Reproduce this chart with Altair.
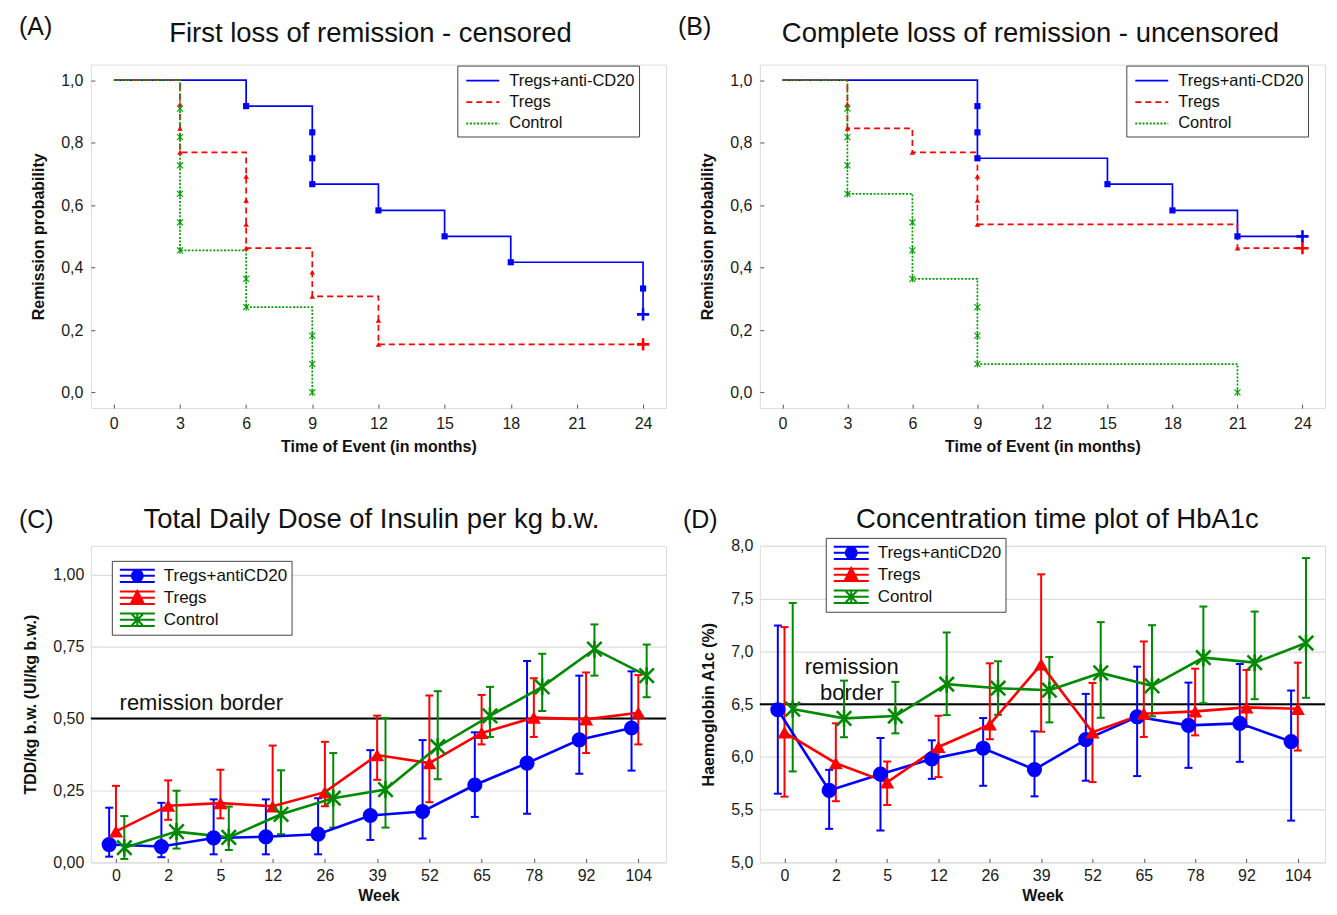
import json
import altair as alt
import pandas as pd

FONT = "Liberation Sans"

# ---------------- Panels A / B : Kaplan-Meier ----------------
km_groups = ["Tregs+anti-CD20", "Tregs", "Control"]
month_ticks = [0, 3, 6, 9, 12, 15, 18, 21, 24]
prob_ticks = [0.0, 0.2, 0.4, 0.6, 0.8, 1.0]

# A: step curves
a_blue_t = [0, 6, 9, 12, 15, 18, 24]
a_blue_s = [1.0, 0.917, 0.667, 0.583, 0.5, 0.417, 0.25]
a_red_t = [0, 3, 6, 9, 12, 24]
a_red_s = [1.0, 0.769, 0.462, 0.308, 0.154, 0.154]
a_green_t = [0, 3, 6, 9]
a_green_s = [1.0, 0.455, 0.273, 0.0]
# A: event markers
a_blue_ev_t = [6, 9, 9, 9, 12, 15, 18, 24]
a_blue_ev_s = [0.917, 0.833, 0.75, 0.667, 0.583, 0.5, 0.417, 0.333]
a_red_ev_t = [3, 3, 3, 6, 6, 6, 6, 9, 9, 12, 12]
a_red_ev_s = [0.923, 0.846, 0.769, 0.692, 0.615, 0.538, 0.462, 0.385, 0.308, 0.231, 0.154]
a_green_ev_t = [3, 3, 3, 3, 3, 3, 6, 6, 9, 9, 9]
a_green_ev_s = [0.909, 0.818, 0.727, 0.636, 0.545, 0.455, 0.364, 0.273, 0.182, 0.091, 0.0]
# A: censored
a_cens_g = ["Tregs+anti-CD20", "Tregs"]
a_cens_t = [24, 24]
a_cens_s = [0.25, 0.154]

# B: step curves
b_blue_t = [0, 9, 15, 18, 21, 24]
b_blue_s = [1.0, 0.75, 0.667, 0.583, 0.5, 0.5]
b_red_t = [0, 3, 6, 9, 21, 24]
b_red_s = [1.0, 0.846, 0.769, 0.538, 0.462, 0.462]
b_green_t = [0, 3, 6, 9, 21]
b_green_s = [1.0, 0.636, 0.364, 0.091, 0.0]
# B: event markers
b_blue_ev_t = [9, 9, 9, 15, 18, 21]
b_blue_ev_s = [0.917, 0.833, 0.75, 0.667, 0.583, 0.5]
b_red_ev_t = [3, 3, 6, 9, 9, 9, 21]
b_red_ev_s = [0.923, 0.846, 0.769, 0.692, 0.615, 0.538, 0.462]
b_green_ev_t = [3, 3, 3, 3, 6, 6, 6, 9, 9, 9, 21]
b_green_ev_s = [0.909, 0.818, 0.727, 0.636, 0.545, 0.455, 0.364, 0.273, 0.182, 0.091, 0.0]
# B: censored
b_cens_g = ["Tregs+anti-CD20", "Tregs"]
b_cens_t = [24, 24]
b_cens_s = [0.5, 0.462]

# ---------------- Panels C / D : weekly means with error bars ----------------
cd_groups = ["Tregs+antiCD20", "Tregs", "Control"]
weeks = ["0", "2", "5", "12", "26", "39", "52", "65", "78", "92", "104"]

c_blue_mean = [0.062, 0.055, 0.085, 0.089, 0.098, 0.163, 0.177, 0.269, 0.345, 0.426, 0.467]
c_blue_lo = [0.020, 0.018, 0.028, 0.028, 0.028, 0.078, 0.083, 0.158, 0.169, 0.308, 0.319]
c_blue_hi = [0.190, 0.207, 0.219, 0.219, 0.223, 0.390, 0.425, 0.452, 0.700, 0.649, 0.664]
c_red_mean = [0.108, 0.197, 0.206, 0.195, 0.244, 0.373, 0.345, 0.450, 0.503, 0.497, 0.520]
c_red_lo = [0.095, 0.148, 0.153, 0.180, 0.195, 0.287, 0.209, 0.410, 0.436, 0.380, 0.410]
c_red_hi = [0.266, 0.285, 0.322, 0.406, 0.419, 0.510, 0.580, 0.582, 0.640, 0.660, 0.651]
c_green_mean = [0.051, 0.107, 0.087, 0.167, 0.223, 0.253, 0.402, 0.509, 0.610, 0.741, 0.649]
c_green_lo = [0.012, 0.048, 0.043, 0.098, 0.121, 0.121, 0.289, 0.436, 0.526, 0.649, 0.574]
c_green_hi = [0.161, 0.249, 0.194, 0.320, 0.380, 0.502, 0.595, 0.610, 0.725, 0.827, 0.757]
c_border = 0.5
c_ticks = [0.0, 0.25, 0.5, 0.75, 1.0]

d_blue_mean = [6.447, 5.682, 5.836, 5.981, 6.082, 5.880, 6.163, 6.380, 6.299, 6.318, 6.145]
d_blue_lo = [5.651, 5.318, 5.302, 5.792, 5.726, 5.626, 5.774, 5.818, 5.896, 5.953, 5.396]
d_blue_hi = [7.245, 5.877, 6.179, 6.157, 6.368, 6.242, 6.597, 6.855, 6.704, 6.880, 6.629]
d_red_mean = [6.233, 5.940, 5.758, 6.094, 6.308, 6.877, 6.233, 6.409, 6.431, 6.469, 6.456]
d_red_lo = [5.623, 5.580, 5.544, 5.808, 6.167, 6.239, 5.761, 6.189, 6.204, 6.283, 6.060]
d_red_hi = [7.230, 6.318, 5.956, 6.390, 6.887, 7.730, 6.701, 7.094, 6.836, 6.824, 6.893]
d_green_mean = [6.453, 6.365, 6.387, 6.689, 6.651, 6.632, 6.796, 6.673, 6.940, 6.893, 7.079]
d_green_lo = [5.862, 6.186, 6.223, 6.396, 6.399, 6.327, 6.371, 6.384, 6.509, 6.547, 6.560]
d_green_hi = [7.459, 6.723, 6.711, 7.179, 6.906, 6.947, 7.277, 7.248, 7.425, 7.377, 7.884]
d_border = 6.5
d_ticks = [5.0, 5.5, 6.0, 6.5, 7.0, 7.5, 8.0]

# ---------------- style ----------------
COLORS = ["#0000FF", "#FF0000", "#008A00"]
KM_GREEN = "#00A000"
KM_COLORS = [COLORS[0], COLORS[1], KM_GREEN]
DASHES = [[1, 0], [6, 4], [2, 1.6]]
OFFSETS = {"Tregs+antiCD20": -0.13, "Tregs": 0.0, "Control": 0.16}
ASTER = "M0,-1L0,1M-0.85,-0.85L0.85,0.85M-0.85,0.85L0.85,-0.85"
PLUS = "M-1,0L1,0M0,-1L0,1"
KM_LEG_PATH = "M-1.65,0L1.65,0"
_BARS = "M-1.75,-0.62L1.75,-0.62M-1.75,0L1.75,0M-1.75,0.62L1.75,0.62"
LEG_PATHS = [
    _BARS + "M0,-0.62L0,0.62M0.55,0A0.55,0.55,0,1,1,-0.55,0A0.55,0.55,0,1,1,0.55,0Z",
    _BARS + "M0,-0.62L0,0.62M0,-0.68L0.58,0.45L-0.58,0.45Z",
    _BARS + "M0,-0.68L0,0.68M-0.55,-0.55L0.55,0.55M-0.55,0.55L0.55,-0.55",
]

AX_COMMON = dict(
    domain=False, labelFont=FONT, titleFont=FONT,
    labelFontSize=16, titleFontSize=16, titleFontWeight="bold",
    labelColor="#1a1a1a", titleColor="#111111", labelFlush=False,
)
# small inward ticks (axis shifted inside by the tick length)
INWARD = dict(ticks=True, tickSize=4, offset=-4, tickColor="#555555", tickWidth=1)


def text_layer(txt, x, y, size, align):
    return alt.Chart(pd.DataFrame({"t": [txt]})).mark_text(
        align=align, baseline="alphabetic", fontSize=size, font=FONT, color="#111111"
    ).encode(x=alt.value(x), y=alt.value(y), text="t:N")


def km_frames(steps, events, cens):
    st = pd.DataFrame([
        {"g": g, "t": t, "s": s}
        for g, (ts, ss) in zip(km_groups, steps) for t, s in zip(ts, ss)
    ])
    ev = pd.DataFrame([
        {"g": g, "t": t, "s": s}
        for g, (ts, ss) in zip(km_groups, events) for t, s in zip(ts, ss)
    ])
    ce = pd.DataFrame({"g": cens[0], "t": cens[1], "s": cens[2]})
    return st, ev, ce


def km_panel(st, ev, ce, title, letter, width, height, title_x, letter_x, legend_x):
    xsc = alt.Scale(domain=[-1.04, 25.04], nice=False, zero=False)
    ysc = alt.Scale(domain=[-0.05, 1.05], nice=False, zero=False)
    xax = alt.Axis(values=month_ticks, title="Time of Event (in months)", grid=False,
                   labelPadding=7, titlePadding=7, **INWARD, **AX_COMMON)
    yax = alt.Axis(values=prob_ticks, title="Remission probability", grid=False,
                   labelExpr="replace(format(datum.value, '.1f'), '.', ',')",
                   labelPadding=8, titlePadding=14, **INWARD, **AX_COMMON)
    X = alt.X("t:Q", scale=xsc, axis=xax)
    Y = alt.Y("s:Q", scale=ysc, axis=yax)
    leg = alt.Legend(orient="none", legendX=legend_x, legendY=1, title=None,
                     fillColor="white", strokeColor="#444444", padding=4,
                     labelFont=FONT, labelFontSize=16.5, labelColor="#111111",
                     symbolType=KM_LEG_PATH, symbolSize=400, symbolStrokeWidth=1.8,
                     symbolOffset=10.5, labelOffset=15.5, rowPadding=1.5)
    cscale = alt.Scale(domain=km_groups, range=KM_COLORS)
    lines = alt.Chart(st).mark_line(interpolate="step-after", strokeWidth=1.7).encode(
        x=X, y=Y,
        color=alt.Color("g:N", scale=cscale, legend=leg),
        strokeDash=alt.StrokeDash("g:N", scale=alt.Scale(domain=km_groups, range=DASHES), legend=leg),
    )
    sq = alt.Chart(ev).transform_filter(alt.datum.g == km_groups[0]).mark_point(
        shape="square", filled=True, size=38, color=KM_COLORS[0], opacity=1).encode(x=X, y=Y)
    tri = alt.Chart(ev).transform_filter(alt.datum.g == km_groups[1]).mark_point(
        shape="triangle-up", filled=True, size=30, color=KM_COLORS[1], opacity=1).encode(x=X, y=Y)
    ast = alt.Chart(ev).transform_filter(alt.datum.g == km_groups[2]).mark_point(
        shape=ASTER, filled=False, size=50, strokeWidth=1.1, color=KM_COLORS[2], opacity=1).encode(x=X, y=Y)
    cen = alt.Chart(ce).mark_point(shape=PLUS, filled=False, size=150, strokeWidth=2.6, opacity=1).encode(
        x=X, y=Y, color=alt.Color("g:N", scale=cscale, legend=None))
    lab = text_layer(letter, letter_x, -30, 25, "left")
    ttl = text_layer(title, title_x, -23, 27.5, "center")
    return alt.layer(lines, sq, tri, ast, cen, lab, ttl).properties(width=width, height=height)


def cd_frame(series):
    rows = []
    for g, (m, lo, hi) in zip(cd_groups, series):
        for i, w in enumerate(weeks):
            rows.append({"g": g, "i": i, "mean": m[i], "lo": lo[i], "hi": hi[i]})
    df = pd.DataFrame(rows)
    df["xp"] = df["i"] + df["g"].map(OFFSETS)
    return df


def cd_panel(df, title, letter, ytitle, ydom, yticks, yfmt, border, note, note_pos,
             note_align, width, height, title_x, letter_x, legend_x, legend_y):
    xsc = alt.Scale(domain=[-0.48, 10.53], nice=False, zero=False)
    ysc = alt.Scale(domain=ydom, nice=False, zero=False)
    xax = alt.Axis(values=list(range(len(weeks))), title="Week", grid=False,
                   labelExpr=json.dumps(weeks) + "[datum.value]",
                   labelPadding=5, titlePadding=4, **INWARD, **AX_COMMON)
    yax = alt.Axis(values=yticks, title=ytitle, grid=True, gridColor="#dddddd", gridWidth=1.2,
                   ticks=False,
                   labelExpr="replace(format(datum.value, '" + yfmt + "'), '.', ',')",
                   labelPadding=7, titlePadding=14, **AX_COMMON)
    X = alt.X("xp:Q", scale=xsc, axis=xax)

    def Y(f):
        return alt.Y(f, scale=ysc, axis=yax)

    cscale = alt.Scale(domain=cd_groups, range=COLORS)
    col = alt.Color("g:N", scale=cscale, legend=None)

    bline = alt.Chart(pd.DataFrame({"v": [border]})).mark_rule(
        color="black", strokeWidth=2).encode(y=Y("v:Q"))
    ntext = alt.Chart(pd.DataFrame({"x": [note_pos[0]], "y": [note_pos[1]], "t": [note]})).mark_text(
        align=note_align, baseline="middle", fontSize=22, font=FONT, color="#111111",
        lineBreak="\n", lineHeight=26).encode(
        x=alt.X("x:Q", scale=xsc, axis=xax), y=Y("y:Q"), text="t:N")
    err = alt.Chart(df).mark_rule(strokeWidth=2).encode(
        x=X, y=Y("lo:Q"), y2="hi:Q", color=col)
    caps = alt.Chart(df).transform_fold(["lo", "hi"], as_=["k", "v"]).mark_point(
        shape="stroke", filled=False, size=64, strokeWidth=2, opacity=1).encode(
        x=X, y=Y("v:Q"), color=col)
    line = alt.Chart(df).mark_line(strokeWidth=2.6).encode(
        x=X, y=Y("mean:Q"), color=col, detail="g:N")
    p1 = alt.Chart(df).transform_filter(alt.datum.g == cd_groups[0]).mark_point(
        shape="circle", filled=True, size=230, color=COLORS[0], opacity=1).encode(x=X, y=Y("mean:Q"))
    p2 = alt.Chart(df).transform_filter(alt.datum.g == cd_groups[1]).mark_point(
        shape="triangle-up", filled=True, size=200, color=COLORS[1], opacity=1).encode(x=X, y=Y("mean:Q"))
    p3 = alt.Chart(df).transform_filter(alt.datum.g == cd_groups[2]).mark_point(
        shape=ASTER, filled=False, size=290, strokeWidth=2.6, color=COLORS[2], opacity=1).encode(x=X, y=Y("mean:Q"))

    leg = alt.Legend(orient="none", legendX=legend_x, legendY=legend_y, title=None,
                     fillColor="white", strokeColor="#444444", padding=4,
                     labelFont=FONT, labelFontSize=17, labelColor="#111111",
                     symbolSize=400, symbolStrokeWidth=2, symbolOpacity=1,
                     symbolOffset=10.5, labelOffset=15.5, rowPadding=0)
    legl = alt.Chart(df).mark_point(
        filled=True, strokeWidth=2, size=10, opacity=0).encode(
        x=X, y=Y("mean:Q"),
        fill=alt.Fill("g:N", scale=alt.Scale(domain=cd_groups, range=COLORS), legend=leg),
        stroke=alt.Stroke("g:N", scale=alt.Scale(domain=cd_groups, range=COLORS), legend=leg),
        shape=alt.Shape("g:N", scale=alt.Scale(domain=cd_groups, range=LEG_PATHS), legend=leg),
    )
    lab = text_layer(letter, letter_x, -18, 25, "left")
    ttl = text_layer(title, title_x, -18, 27.5, "center")
    return alt.layer(legl, bline, ntext, err, caps, line, p1, p2, p3, lab, ttl).properties(
        width=width, height=height)


a_st, a_ev, a_ce = km_frames(
    [(a_blue_t, a_blue_s), (a_red_t, a_red_s), (a_green_t, a_green_s)],
    [(a_blue_ev_t, a_blue_ev_s), (a_red_ev_t, a_red_ev_s), (a_green_ev_t, a_green_ev_s)],
    (a_cens_g, a_cens_t, a_cens_s))
b_st, b_ev, b_ce = km_frames(
    [(b_blue_t, b_blue_s), (b_red_t, b_red_s), (b_green_t, b_green_s)],
    [(b_blue_ev_t, b_blue_ev_s), (b_red_ev_t, b_red_ev_s), (b_green_ev_t, b_green_ev_s)],
    (b_cens_g, b_cens_t, b_cens_s))

c_df = cd_frame([(c_blue_mean, c_blue_lo, c_blue_hi), (c_red_mean, c_red_lo, c_red_hi),
                 (c_green_mean, c_green_lo, c_green_hi)])
d_df = cd_frame([(d_blue_mean, d_blue_lo, d_blue_hi), (d_red_mean, d_red_lo, d_red_hi),
                 (d_green_mean, d_green_lo, d_green_hi)])

W1, W2, H1, H2 = 576, 566, 344, 317

pa = km_panel(a_st, a_ev, a_ce, "First loss of remission - censored", "(A)",
              W1, H1, 280, -72, 367)
pb = km_panel(b_st, b_ev, b_ce, "Complete loss of remission - uncensored", "(B)",
              W2, H1, 271, -82, 367)
pc = cd_panel(c_df, "Total Daily Dose of Insulin per kg b.w.", "(C)", "TDD/kg b.w. (UI/kg b.w.)",
              [0.0, 1.1], c_ticks, ".2f", c_border, "remission border", (0.07, 0.555), "left",
              W1, H2, 281, -72, 21, 15)
pd_ = cd_panel(d_df, "Concentration time plot of HbA1c", "(D)", "Haemoglobin A1c (%)",
               [5.0, 8.0], d_ticks, ".1f", d_border, "remission\nborder", (1.31, 6.85), "center",
               W2, H2, 298, -77, 66, -8)

INDEP = dict(color="independent", fill="independent", stroke="independent",
             shape="independent", strokeDash="independent")

chart = alt.concat(pa, pb, pc, pd_, columns=2, spacing={"row": 138, "column": 94},
                   bounds="flush").resolve_scale(**INDEP).resolve_legend(**INDEP).properties(
    padding={"left": 10, "top": 5, "right": 2, "bottom": 2}
).configure_view(stroke="#555555", strokeWidth=1.3).configure(background="white")

chart.save("out.html", embed_options={"renderer": "svg", "actions": False})
